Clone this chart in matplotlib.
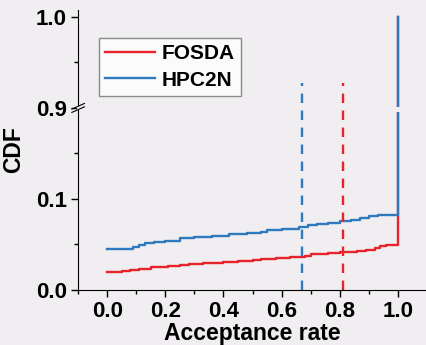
import numpy as np
import matplotlib
matplotlib.use('Agg')
import matplotlib.pyplot as plt
from matplotlib.patches import Rectangle

plt.rcParams['font.family'] = ['Liberation Sans', 'DejaVu Sans']
plt.rcParams['font.weight'] = 'bold'

# CDF of acceptance rate (step curves)
hpc_x = [0.00, 0.07, 0.09, 0.11, 0.13, 0.16, 0.20, 0.25, 0.30, 0.36, 0.42, 0.48, 0.53, 0.55,
         0.60, 0.66, 0.69, 0.72, 0.76, 0.80, 0.84, 0.87, 0.90, 0.93, 1.00]
hpc_y = [0.045, 0.045, 0.047, 0.049, 0.051, 0.053, 0.054, 0.057, 0.058, 0.059, 0.061, 0.062, 0.064, 0.066,
         0.067, 0.069, 0.071, 0.072, 0.074, 0.076, 0.077, 0.079, 0.081, 0.082, 1.0]
fos_x = [0.00, 0.05, 0.08, 0.11, 0.15, 0.21, 0.25, 0.28, 0.33, 0.38, 0.40, 0.45, 0.50, 0.53,
         0.58, 0.63, 0.68, 0.70, 0.76, 0.80, 0.86, 0.89, 0.92, 0.94, 0.96, 1.00]
fos_y = [0.020, 0.021, 0.022, 0.023, 0.025, 0.026, 0.027, 0.028, 0.029, 0.030, 0.031, 0.032, 0.033, 0.034,
         0.035, 0.036, 0.037, 0.039, 0.041, 0.042, 0.043, 0.044, 0.046, 0.048, 0.049, 1.0]

# mean acceptance rates (dashed markers)
fos_mean = 0.81
hpc_mean = 0.67
mean_top = 0.927

red = '#e8232b'
blue = '#2f79be'
bg = '#f0eef0'


def fwd(y):
    y = np.asarray(y, dtype=float)
    return np.where(y <= 0.2, y, np.where(y >= 0.9, y - 0.7, 0.2))


def inv(t):
    t = np.asarray(t, dtype=float)
    return np.where(t <= 0.2, t, t + 0.7)


fig = plt.figure(figsize=(4.27, 3.45), dpi=100, facecolor=bg)
ax = fig.add_axes([0.183, 0.16, 0.817, 0.811], facecolor=bg)
ax.set_yscale('function', functions=(fwd, inv))

ax.plot(fos_x, fos_y, drawstyle='steps-post', color=red, lw=1.7, label='FOSDA')
ax.plot(hpc_x, hpc_y, drawstyle='steps-post', color=blue, lw=1.7, label='HPC2N')
ax.plot([fos_mean, fos_mean], [0, mean_top], color=red, lw=1.7, linestyle=(0, (4.0, 3.2)))
ax.plot([hpc_mean, hpc_mean], [0, mean_top], color=blue, lw=1.7, linestyle=(0, (4.0, 3.2)))

ax.set_xlim(-0.1, 1.1)
ax.set_ylim(0, 1.0077)
ax.set_xticks([0.0, 0.2, 0.4, 0.6, 0.8, 1.0])
ax.set_xticks([-0.1, 0.1, 0.3, 0.5, 0.7, 0.9, 1.1], minor=True)
ax.set_yticks([0.0, 0.1, 0.9, 1.0])
ax.set_yticklabels(['0.0', '0.1', '0.9', '1.0'])
ax.set_yticks([0.05, 0.15, 0.95], minor=True)
ax.tick_params(which='major', length=5, width=1, labelsize=16, direction='out', pad=3)
ax.tick_params(which='minor', length=3, width=1, direction='out')
for s in ['top', 'right']:
    ax.spines[s].set_visible(False)

ax.set_xlabel('Acceptance rate', fontsize=16.5, fontweight='bold', labelpad=0)
ax.set_ylabel('CDF', fontsize=16.5, fontweight='bold', labelpad=8)

# axis break: gap in the curves and slashes on the spine
ax.add_patch(Rectangle((0.95, 0.1956), 0.1, 0.7055, facecolor=bg, edgecolor='none', zorder=5))
gap = ax.transAxes.inverted().transform(ax.transData.transform((0, 0.2)))[1]
for dy in (-0.006, 0.006):
    ax.plot([-0.018, 0.018], [gap + dy - 0.01, gap + dy + 0.01], transform=ax.transAxes,
            color='black', lw=0.8, clip_on=False, zorder=6)
ax.add_patch(Rectangle((-0.004, gap - 0.006), 0.008, 0.012, transform=ax.transAxes,
                       facecolor=bg, edgecolor='none', clip_on=False, zorder=5))

leg = ax.legend(loc='upper left', bbox_to_anchor=(0.06, 0.9),
                prop={'weight': 'bold', 'size': 15}, frameon=True, fancybox=False,
                handlelength=2.4, handletextpad=0.3, borderpad=0.3, labelspacing=0.35,
                borderaxespad=0)
leg.get_frame().set_edgecolor('#707070')
leg.get_frame().set_facecolor('white')
leg.get_frame().set_linewidth(1.0)

fig.savefig('out.png', dpi=100, facecolor=bg)
